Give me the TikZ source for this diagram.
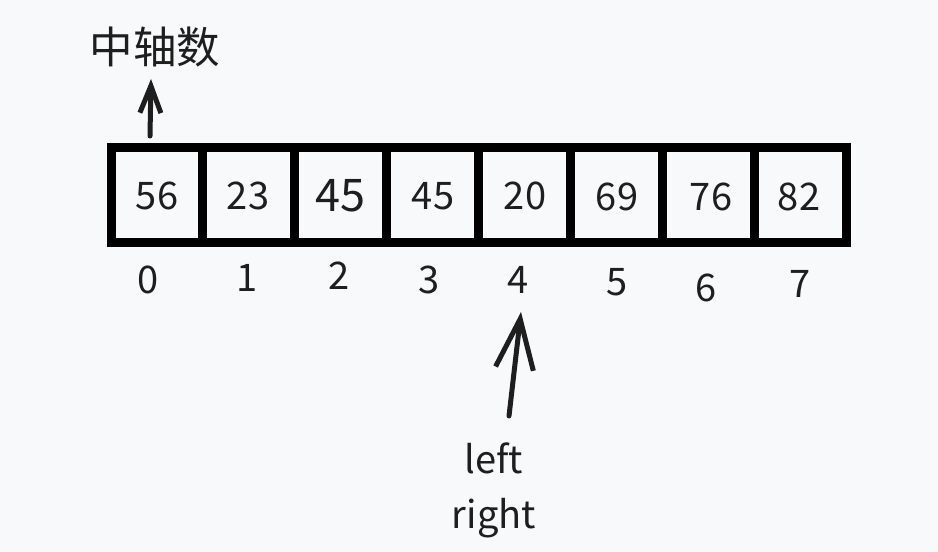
\documentclass[tikz,border=0pt]{standalone}
\usepackage{fontspec}
\setmainfont{Noto Sans CJK SC}
\usetikzlibrary{arrows.meta}
\definecolor{paper}{HTML}{F8F9FA}
\definecolor{ink}{HTML}{1E1E1E}
\tikzset{
  cell/.style = {draw=black,line width=9pt,minimum width=91.9pt,minimum height=95pt,
    inner sep=0pt,text=ink},
  index/.style = {text=ink,inner sep=0pt,font=\fontsize{38}{46}\selectfont},
  label/.style = {text=ink,inner sep=0pt,align=center,font=\fontsize{38}{55}\selectfont},
  pointer/.style = {draw=ink,line width=5pt,line cap=round,line join=round}
}

\begin{document}
\begin{tikzpicture}[x=1pt,y=-1pt]
  \fill[paper] (0,0) rectangle (938,552);
  \useasboundingbox (0,0) rectangle (938,552);
  \def\CellWidth{91.875}
  % cells
  \foreach \i in {0,...,7} {
    \node[cell] (cell\i) at (157+\CellWidth*\i,194.5) {};
  }
  \foreach \i/\v/\x/\y in {0/56/157/196,1/23/248/196,3/45/433/196,4/20/525/196,5/69/617/197,6/76/711/197,7/82/799/197} {
    \node[index] (val\i) at (\x,\y) {\v};
  }
  \node[index,font=\fontsize{45}{52}\selectfont] (val2) at (340,196) {45}; % bigger one
  % indices
  \foreach \i/\x/\y in {0/148/280,1/247/278,2/339/276,3/429/280,4/518/280,5/617/282,6/706/288,7/800/284} {
    \node[index] (idx\i) at (\x,\y) {\i};
  }
  % pivot
  \node[label,font=\fontsize{43.5}{50}\selectfont] (pivot) at (155,47) {中轴数};
  \coordinate (pivottail) at (150,136);
  \coordinate (pivottip) at (151,79);
  \draw[pointer,-{Straight Barb[length=27pt,width=21pt]}] (pivottail) -- (pivottip);
  % left and right
  \node[label] (lr) at (494,490) {left\\right};
  \coordinate (lrtail) at (509,416);
  \coordinate (lrtip) at (521,312);
  \draw[pointer,-{Straight Barb[length=50pt,width=38pt]}] (lrtail) -- (lrtip);
\end{tikzpicture}
\end{document}
